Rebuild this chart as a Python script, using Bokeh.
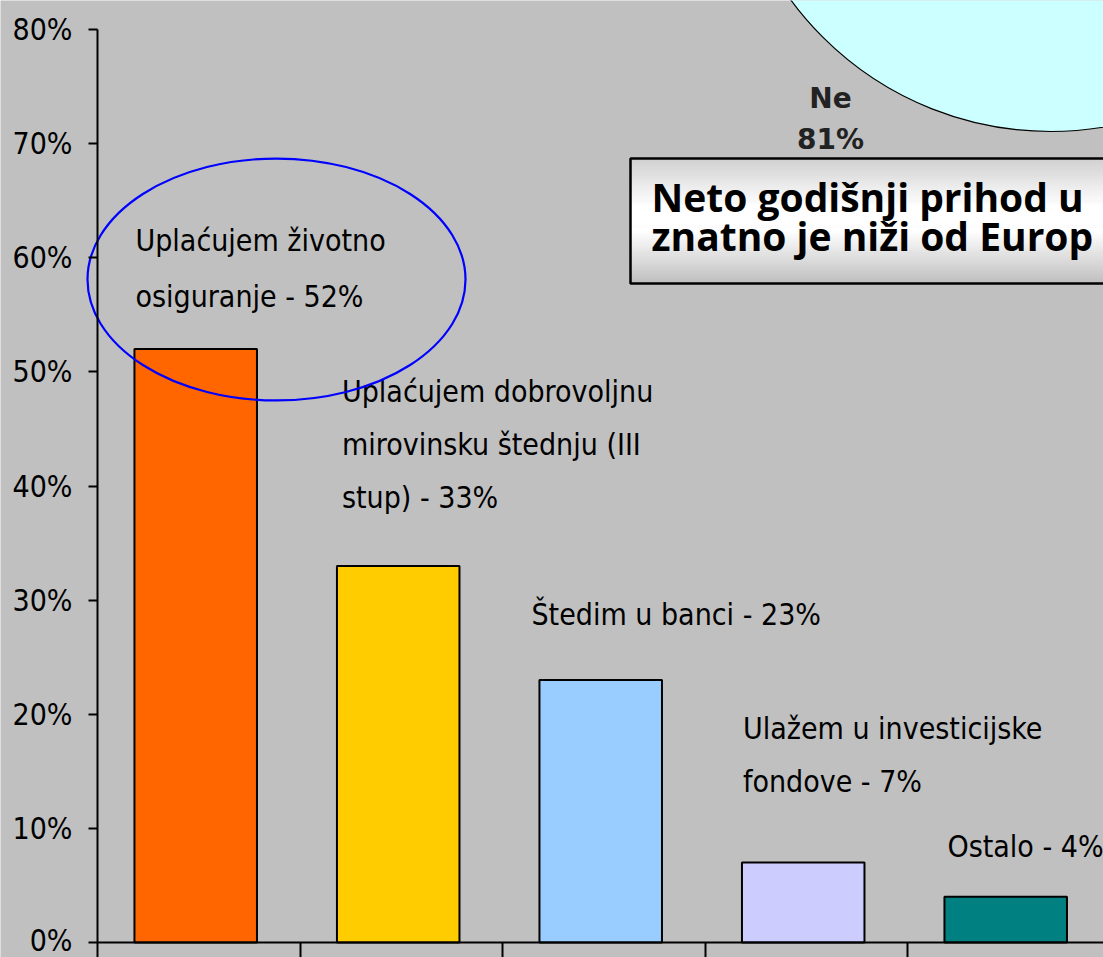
from bokeh.plotting import figure
from bokeh.models import (LinearAxis, FixedTicker, PrintfTickFormatter,
                          ColumnDataSource, Range1d)
from bokeh.embed import file_html
from bokeh.resources import INLINE
from bokeh.core.properties import value

# ---------------- data ----------------
categories = ["Uplaćujem životno osiguranje",
              "Uplaćujem dobrovoljnu mirovinsku štednju (III stup)",
              "Štedim u banci",
              "Ulažem u investicijske fondove",
              "Ostalo"]
shares = [52, 33, 23, 7, 4]
bar_colors = ["#FF6600", "#FFCC00", "#99CCFF", "#CCCCFF", "#008080"]
label_lines = [["Uplaćujem životno", "osiguranje - 52%"],
               ["Uplaćujem dobrovoljnu", "mirovinsku štednju (III", "stup) - 33%"],
               ["Štedim u banci - 23%"],
               ["Ulažem u investicijske", "fondove - 7%"],
               ["Ostalo - 4%"]]
y_ticks = [0, 10, 20, 30, 40, 50, 60, 70, 80]
pie_label = "Ne"
pie_share = 81
box_lines = ["Neto godišnji prihod u", "znatno je niži od Europ"]

# ---------------- geometry helpers (reference pixels -> data) ----------------
W, H = 1103, 957
PX_PER_CAT = 202.5
PX_PER_PCT = 11.4125
def fx(px):
    return (px - 97) / PX_PER_CAT
def fy(py):
    return (942 - py) / PX_PER_PCT

p = figure(width=W, height=H, output_backend="svg", toolbar_location=None,
           x_range=Range1d(fx(0), fx(W)), y_range=Range1d(fy(H), fy(0)),
           x_axis_type=None, y_axis_type=None,
           min_border_left=0, min_border_right=0, min_border_top=0, min_border_bottom=0)
p.background_fill_color = "#C0C0C0"
p.border_fill_color = "#C0C0C0"
p.outline_line_color = None
p.xgrid.visible = False
p.ygrid.visible = False

NARROW = "DejaVu Sans Condensed"

# ---------------- pie (only the 'Ne' slice is visible) ----------------
p.scatter(x=[fx(1050)], y=[fy(-191)], size=644, marker="circle",
          fill_color="#CCFFFF", line_color="black", line_width=1.2)
p.text(x=[fx(830), fx(830)], y=[fy(98), fy(139)], text=[pie_label, f"{pie_share}%"],
       text_font=value("DejaVu Sans"), text_font_style="bold", text_font_size="28px",
       text_color="#222222", text_align="center", text_baseline="middle")

# ---------------- text box with vertical gradient ----------------
def mix(c1, c2, t):
    return "#%02x%02x%02x" % tuple(int(round(a + (b - a) * t)) for a, b in zip(c1, c2))
top_c, mid_c, bot_c = (208, 208, 208), (255, 255, 255), (190, 190, 190)
bx0, bx1, by0, by1 = 630, 1115, 158, 283
nb = 60
lefts, rights, tops, bottoms, cols = [], [], [], [], []
for k in range(nb):
    t = (k + 0.5) / nb
    if t < 0.38:
        c = mix(top_c, mid_c, t / 0.38)
    elif t < 0.58:
        c = "#ffffff"
    else:
        c = mix(mid_c, bot_c, (t - 0.58) / 0.42)
    y_a = by0 + (by1 - by0) * k / nb
    y_b = by0 + (by1 - by0) * (k + 1) / nb + 0.6
    lefts.append(fx(bx0)); rights.append(fx(bx1)); tops.append(fy(y_a)); bottoms.append(fy(y_b)); cols.append(c)
p.quad(left=lefts, right=rights, top=tops, bottom=bottoms, fill_color=cols, line_color=None)
p.quad(left=[fx(bx0)], right=[fx(bx1)], top=[fy(by0)], bottom=[fy(by1)],
       fill_color=None, line_color="black", line_width=2.5)
p.text(x=[fx(651), fx(651)], y=[fy(196), fy(235)], text=box_lines,
       text_font=value("Open Sans"), text_font_style="bold", text_font_size="39px",
       text_color="black", text_align="left", text_baseline="middle")

# ---------------- bars ----------------
bar_x = [i + 0.485 for i in range(len(shares))]
src = ColumnDataSource(dict(x=bar_x, top=shares, color=bar_colors, cat=categories))
p.vbar(x="x", top="top", width=0.605, bottom=0, source=src,
       fill_color="color", line_color="black", line_width=2)

# ---------------- bar labels ----------------
label_dx = [1, 5, -8, 1, 3]          # px shift from bar left edge
label_gap = [53, 68, 66, 81, 50]      # px from bar top to last line centre
label_spacing = [56, 53, 53, 53, 53]
lx, ly, lt, lxo, lyo = [], [], [], [], []
for i, lines in enumerate(label_lines):
    n = len(lines)
    for k, line in enumerate(lines):
        lx.append(bar_x[i] - 0.3025)
        ly.append(shares[i])
        lt.append(line)
        lxo.append(label_dx[i])
        lyo.append(-(label_gap[i] + (n - 1 - k) * label_spacing[i]))
p.text(x="x", y="y", text="t", x_offset="xo", y_offset="yo",
       source=ColumnDataSource(dict(x=lx, y=ly, t=lt, xo=lxo, yo=lyo)),
       text_font=value(NARROW), text_font_size="30px", text_color="black",
       text_align="left", text_baseline="middle")

# ---------------- highlight ellipse ----------------
p.ellipse(x=[fx(276)], y=[fy(279)], width=378, height=242,
          width_units="screen", height_units="screen",
          fill_color=None, line_color="#0000FF", line_width=2.2)

# ---------------- axes ----------------
yaxis = LinearAxis(fixed_location=0, bounds=(0, 80),
                   ticker=FixedTicker(ticks=y_ticks),
                   formatter=PrintfTickFormatter(format="%d%%"))
yaxis.axis_line_width = 2
yaxis.axis_line_color = "black"
yaxis.major_tick_line_width = 2
yaxis.major_tick_out = 9
yaxis.major_tick_in = 0
yaxis.minor_tick_out = 0
yaxis.minor_tick_in = 0
yaxis.major_label_standoff = 16
yaxis.major_label_text_font = NARROW
yaxis.major_label_text_font_size = "30px"
yaxis.major_label_text_color = "black"
p.add_layout(yaxis, "left")

xaxis = LinearAxis(fixed_location=0, bounds=(0, 5),
                   ticker=FixedTicker(ticks=[0, 1, 2, 3, 4, 5]))
xaxis.axis_line_width = 2
xaxis.axis_line_color = "black"
xaxis.major_tick_line_width = 2
xaxis.major_tick_out = 20
xaxis.major_tick_in = 0
xaxis.minor_tick_out = 0
xaxis.minor_tick_in = 0
xaxis.major_label_text_font_size = "0px"
xaxis.major_label_text_alpha = 0
p.add_layout(xaxis, "below")

open("out.html", "w").write(file_html(p, INLINE))
